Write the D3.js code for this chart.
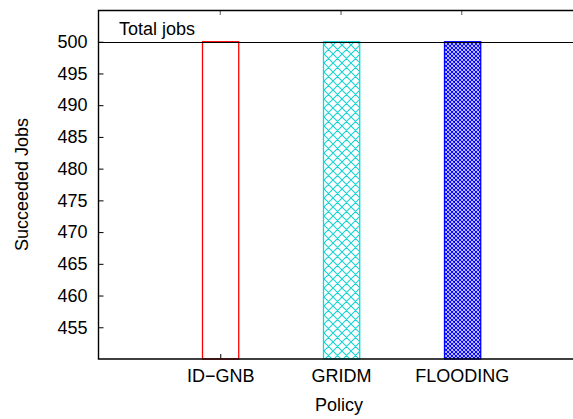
<!DOCTYPE html>
<html>
<head>
<meta charset="utf-8">
<script src="https://cdn.jsdelivr.net/npm/d3@7"></script>
<style>
  html, body { margin: 0; padding: 0; background: #fff; }
  svg text { font-family: "Liberation Sans", Arial, Helvetica, sans-serif; fill: #000; }
</style>
</head>
<body>
<div id="chart"></div>
<script>
// Succeeded jobs per routing policy
const policies = ["ID\u2212GNB", "GRIDM", "FLOODING"];
const succeeded = [500, 500, 500];
const totalJobs = 500;
const yTicks = [455, 460, 465, 470, 475, 480, 485, 490, 495, 500];
const barColors = ["#ff0000", "#19d3d3", "#0000ff"];
const barFills = ["none", "url(#hatch-wide)", "url(#hatch-dense)"];

const W = 573, H = 419;
const svg = d3.select("#chart").append("svg")
  .attr("width", W).attr("height", H);

// plot frame (right edge runs past the window)
const plotLeft = 98.5, plotRight = 583, plotTop = 10, plotBottom = 359;

const x = d3.scaleLinear().domain([0, 4]).range([99.5, 582.5]);
const y = d3.scaleLinear().domain([450, 505]).range([plotBottom, plotTop]);

// hatch patterns
const defs = svg.append("defs");
function hatch(id, size, color, sw) {
  const p = defs.append("pattern")
    .attr("id", id).attr("patternUnits", "userSpaceOnUse")
    .attr("width", size).attr("height", size);
  p.append("rect").attr("width", size).attr("height", size).attr("fill", "#fff");
  p.append("path")
    .attr("d", `M0,0L${size},${size}M${size},0L0,${size}M${-size/2},${size/2}L${size/2},${-size/2}M${size/2},${size*1.5}L${size*1.5},${size/2}M${-size/2},${size/2}L${size/2},${size*1.5}M${size/2},${-size/2}L${size*1.5},${size/2}`)
    .attr("stroke", color).attr("stroke-width", sw).attr("fill", "none");
}
hatch("hatch-wide", 9, barColors[1], 1.1);
hatch("hatch-dense", 4, barColors[2], 1.1);

// y axis ticks (inward) and labels
const yAxis = d3.axisLeft(y).tickValues(yTicks).tickSize(-5).tickPadding(11)
  .tickFormat(d3.format("d"));
const gy = svg.append("g").attr("transform", `translate(${plotLeft},0)`).call(yAxis);
gy.select(".domain").remove();
gy.selectAll("text").style("font-size", "18px")
  .attr("font-family", "Liberation Sans, Arial, sans-serif");
gy.selectAll("line").attr("stroke", "#000");

// x axis labels
const xAxis = d3.axisBottom(x).tickValues([1, 2, 3])
  .tickFormat((d, i) => policies[i]).tickSize(-5).tickPadding(10);
const gx = svg.append("g").attr("transform", `translate(0,${plotBottom})`).call(xAxis);
gx.select(".domain").remove();
gx.selectAll("text").style("font-size", "18px")
  .attr("font-family", "Liberation Sans, Arial, sans-serif");
gx.selectAll("line").attr("stroke", "#000");

// mirrored ticks on the top edge
svg.append("g").selectAll("line").data([1, 2, 3]).join("line")
  .attr("x1", d => x(d)).attr("x2", d => x(d))
  .attr("y1", plotTop).attr("y2", plotTop + 5)
  .attr("stroke", "#555");

// bars
const barW = x(0.3) - x(0);
svg.append("g").selectAll("rect").data(succeeded).join("rect")
  .attr("x", (d, i) => Math.round(x(i + 1) - barW / 2) + 0.5)
  .attr("y", d => y(d))
  .attr("width", barW)
  .attr("height", d => y(450) - y(d))
  .attr("fill", (d, i) => barFills[i])
  .attr("stroke", (d, i) => barColors[i])
  .attr("stroke-width", 1.3);

// total jobs reference line
svg.append("line")
  .attr("x1", plotLeft).attr("x2", plotRight)
  .attr("y1", Math.round(y(totalJobs)) + 0.5).attr("y2", Math.round(y(totalJobs)) + 0.5)
  .attr("stroke", "#000").attr("stroke-width", 1.2);
svg.append("text").attr("x", 119).attr("y", 35)
  .style("font-size", "18px").text("Total jobs");

// frame
svg.append("path")
  .attr("d", `M${plotRight},${plotTop + 0.5}H${plotLeft}V${plotBottom}H${plotRight}`)
  .attr("fill", "none").attr("stroke", "#000").attr("stroke-width", 1.4);

// axis titles
svg.append("text").attr("x", 339).attr("y", 411)
  .attr("text-anchor", "middle").style("font-size", "18px").text("Policy");
svg.append("text")
  .attr("transform", `translate(28,${(plotTop + plotBottom) / 2}) rotate(-90)`)
  .attr("text-anchor", "middle").style("font-size", "18px").text("Succeeded Jobs");
</script>
</body>
</html>
